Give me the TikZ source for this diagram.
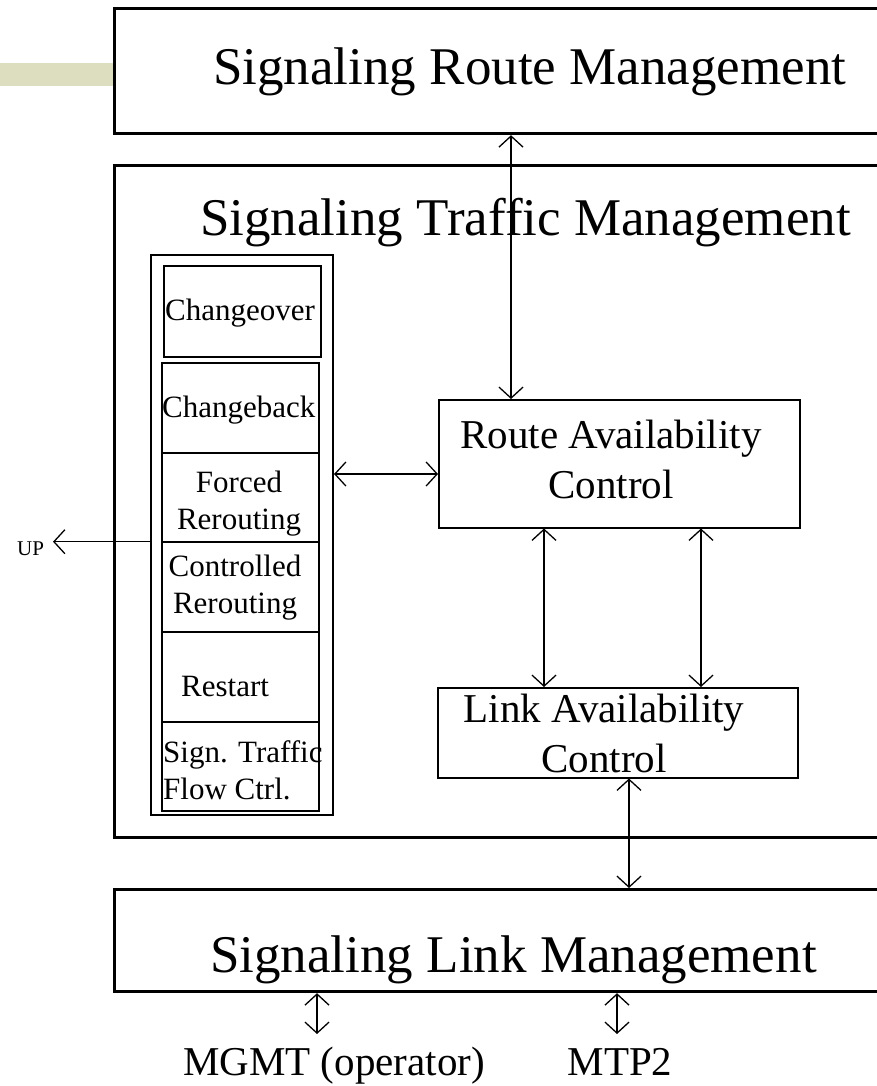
\documentclass[tikz,border=0pt]{standalone}
\usepackage{fontspec}
\setmainfont{Liberation Serif}
\usetikzlibrary{arrows.meta}
\definecolor{barolive}{RGB}{221,221,192}
\tikzset{barb/.tip={Straight Barb[length=11pt,width=24pt]}}
\begin{document}
\begin{tikzpicture}[x=1pt,y=-1pt,
  thickbox/.style={draw, line width=3.2pt, rectangle, inner sep=0pt, anchor=north west},
  colbox/.style={draw, line width=2pt, rectangle, inner sep=0pt, anchor=north west},
  cellbox/.style={draw, line width=1.5pt, rectangle, inner sep=0pt, anchor=north west, minimum width=157pt},
  ctrlbox/.style={draw, line width=1.5pt, rectangle, inner sep=0pt, anchor=north west},
  lbl/.style={inner sep=0pt, anchor=base west},
  clbl/.style={inner sep=0pt, anchor=base},
  bigtxt/.style={font=\fontsize{53}{60}\selectfont},
  midtxt/.style={font=\fontsize{41}{50}\selectfont},
  celltxt/.style={font=\fontsize{31}{37}\selectfont},
  smalltxt/.style={font=\fontsize{21}{25}\selectfont},
  conn/.style={line width=1.3pt, barb-barb},
  oneway/.style={line width=1.3pt, -barb}]
\useasboundingbox (0,0) rectangle (877,1086);
% decorative bar
\fill[barolive] (0,63) rectangle (113,86);
% main boxes
\node[thickbox, minimum width=790pt, minimum height=125pt] (srm) at (113,7) {};
\node[lbl, bigtxt] (srmt) at (213,85) {Signaling Route Management};
\node[thickbox, minimum width=790pt, minimum height=672pt] (stm) at (113,164) {};
\node[lbl, bigtxt] (stmt) at (200,235) {Signaling Traffic Management};
\node[thickbox, minimum width=790pt, minimum height=102pt] (slm) at (113,888) {};
\node[lbl, bigtxt] (slmt) at (210,972) {Signaling Link Management};
% procedure column
\node[colbox, minimum width=182pt, minimum height=560pt] (col) at (150,254) {};
\node[cellbox, minimum height=91pt] (co) at (163,265) {};
\node[cellbox, minimum height=90pt] (cb) at (161,362) {};
\node[cellbox, minimum height=89pt] (fr) at (161,452) {};
\node[cellbox, minimum height=90pt] (cr) at (161,541) {};
\node[cellbox, minimum height=90pt] (rs) at (161,631) {};
\node[cellbox, minimum height=89pt] (tf) at (161,721) {};
\node[lbl, celltxt] (cot) at (165,320) {Changeover};
\node[lbl, celltxt] (cbt) at (162,417) {Changeback};
\node[clbl, celltxt] (frt) at (239,492) {\begin{tabular}[t]{@{}c@{}}Forced\\Rerouting\end{tabular}};
\node[clbl, celltxt] (crt) at (235,576) {\begin{tabular}[t]{@{}c@{}}Controlled\\Rerouting\end{tabular}};
\node[lbl, celltxt] (rst) at (181,696) {Restart};
\node[lbl, celltxt] (tft) at (163,762) {\begin{tabular}[t]{@{}l@{}}Sign. Traffic\\Flow Ctrl.\end{tabular}};
% control boxes
\node[ctrlbox, minimum width=361pt, minimum height=128pt] (rac) at (438,399) {};
\node[clbl, midtxt] (ract) at (611,448) {\begin{tabular}[t]{@{}c@{}}Route Availability\\Control\end{tabular}};
\node[ctrlbox, minimum width=360pt, minimum height=90pt] (lac) at (437,687) {};
\node[clbl, midtxt] (lact) at (604,722) {\begin{tabular}[t]{@{}c@{}}Link Availability\\Control\end{tabular}};
% bottom labels
\node[clbl, midtxt] (mgmt) at (334,1075) {MGMT (operator)};
\node[clbl, midtxt] (mtp) at (620,1075) {MTP2};
\node[lbl, smalltxt] (up) at (17,555) {UP};
% connectors
\coordinate (xa) at (511,0);
\coordinate (ya) at (0,474);
\coordinate (xb) at (544,0);
\coordinate (xc) at (701,0);
\coordinate (xd) at (629,0);
\coordinate (m1) at (317,1034);
\coordinate (m2) at (617,1034);
\coordinate (upend) at (53,541.7);
\draw[conn] (srm.south -| xa) -- (rac.north -| xa);
\draw[conn] (col.east |- ya) -- (rac.west |- ya);
\draw[conn] (rac.south -| xb) -- (lac.north -| xb);
\draw[conn] (rac.south -| xc) -- (lac.north -| xc);
\draw[conn] (lac.south -| xd) -- (slm.north -| xd);
\draw[conn] (slm.south -| m1) -- (m1);
\draw[conn] (slm.south -| m2) -- (m2);
\draw[oneway] (col.west |- upend) -- (upend);
\end{tikzpicture}
\end{document}
